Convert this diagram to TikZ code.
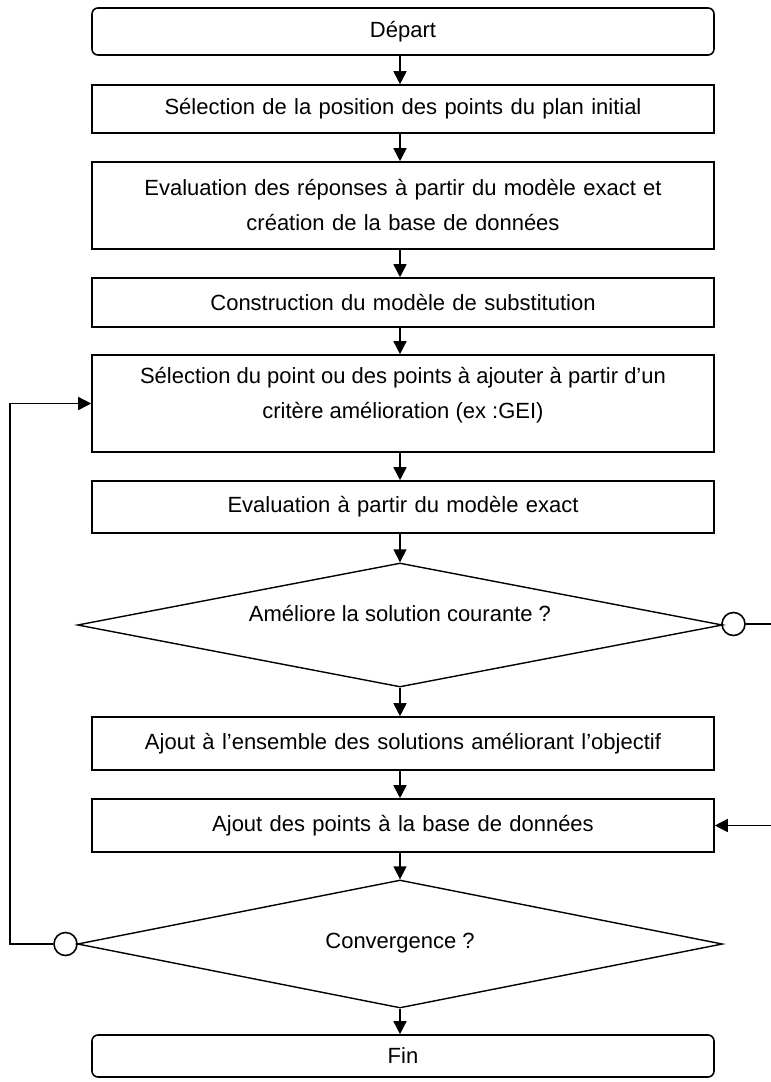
\documentclass[tikz,border=0pt]{standalone}
\usepackage{fontspec}
\setmainfont{Liberation Sans}
\usetikzlibrary{shapes.geometric,arrows.meta}
\begin{document}
\begin{tikzpicture}[x=1pt,y=-1pt,
 txt/.style={font=\fontsize{22}{35}\selectfont},
 box/.style={draw,line width=1.6pt,inner sep=0pt,minimum width=622pt,text width=615pt,align=center,txt},
 term/.style={box,rounded corners=6pt},
 dec/.style={draw,diamond,line width=1.4pt,inner sep=0pt,minimum width=645pt,minimum height=124pt},
 conn/.style={circle,draw,line width=1.6pt,minimum size=23pt,inner sep=0pt},
 arr/.style={line width=1.6pt,-{Triangle[length=13pt,width=13pt]}},
 ln/.style={line width=1.6pt}]
\useasboundingbox (0,0) rectangle (771,1082);

\node[term,minimum height=47pt] (dep) at (403,31.5) {Départ};
\node[box,minimum height=48pt] (b2) at (403,109) {Sélection de la position des points du plan initial};
\node[box,minimum height=87pt] (b3) at (403,205.5) {Evaluation des réponses à partir du modèle exact et\\création de la base de données};
\node[box,minimum height=49pt] (b4) at (403,302.5) {Construction du modèle de substitution};
\node[box,minimum height=97pt] (b5) at (403,403.5) {};
\node[txt,align=center] (t5) at (403,395) {Sélection du point ou des points à ajouter à partir d’un\\critère amélioration (ex :GEI)};
\node[box,minimum height=52pt] (b6) at (403,507) {Evaluation à partir du modèle exact};
\node[dec] (d1) at (400,625) {};
\node[txt] (t1) at (400,613) {Améliore la solution courante ?};
\node[box,minimum height=53pt] (b7) at (403,743.5) {Ajout à l’ensemble des solutions améliorant l’objectif};
\node[box,minimum height=53pt] (b8) at (403,825.5) {Ajout des points à la base de données};
\node[dec,minimum height=128pt] (d2) at (400,944) {};
\node[txt] (t2) at (400,943) {Convergence ?};
\node[term,minimum height=42pt] (fin) at (403,1056) {Fin};

\node[conn] (c1) at (733.5,624) {};
\node[conn] (c2) at (65.5,944) {};
\coordinate (r1) at (771,624);
\coordinate (r2) at (771,825.5);
\coordinate (l1) at (10,944);

\draw[arr] (dep.south -| d1) -- (b2.north -| d1);
\draw[arr] (b2.south -| d1) -- (b3.north -| d1);
\draw[arr] (b3.south -| d1) -- (b4.north -| d1);
\draw[arr] (b4.south -| d1) -- (b5.north -| d1);
\draw[arr] (b5.south -| d1) -- (b6.north -| d1);
\draw[arr] (b6.south -| d1) -- (d1.north);
\draw[arr] (d1.south) -- (b7.north -| d1);
\draw[arr] (b7.south -| d1) -- (b8.north -| d1);
\draw[arr] (b8.south -| d1) -- (d2.north);
\draw[arr] (d2.south) -- (fin.north -| d1);

\draw[ln] (d1.east) -- (c1.west);
\draw[ln] (c1.east) -- (r1);
\draw[arr] (r2) -- (b8.east);
\draw[ln] (d2.west) -- (c2.east);
\draw[arr] (c2.west) -- (l1) |- (b5.west);
\end{tikzpicture}
\end{document}
